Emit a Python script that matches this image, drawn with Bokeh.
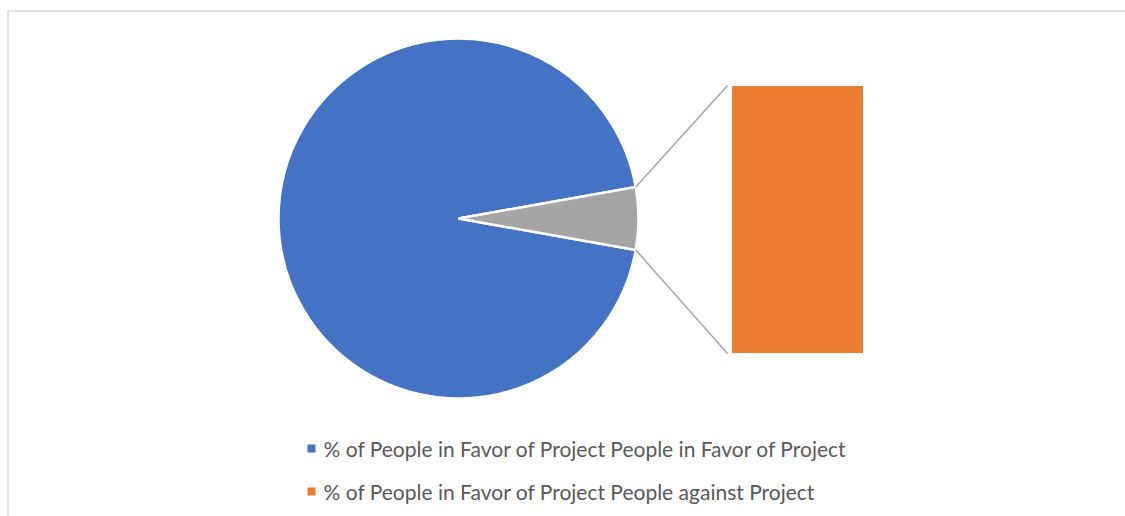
import numpy as np
from bokeh.plotting import figure
from bokeh.models import Range1d, ColumnDataSource
from bokeh.core.properties import value
from bokeh.embed import file_html
from bokeh.resources import INLINE

# ---- data ----
categories = ["People in Favor of Project", "People against Project"]
series_name = "% of People in Favor of Project"
values = [94.4, 5.6]
pie_colors = ["#4472C4", "#A5A5A5"]
bar_colors = ["#4472C4", "#ED7D31"]
legend_labels = [f"{series_name} {c}" for c in categories]

W, H = 1125, 516
p = figure(width=W, height=H, output_backend="svg", toolbar_location=None,
           x_range=Range1d(0, W), y_range=Range1d(0, H), min_border=0)
p.axis.visible = False
p.grid.visible = False
p.outline_line_color = None
p.background_fill_color = "white"
p.border_fill_color = "white"

# chart area border (cropped)
p.quad(left=[7.5], right=[W + 50], top=[H - 10.5], bottom=[-50],
       fill_color=None, line_color="#d9d9d9", line_width=1.5)

# pie
cx, cy, r = 458, H - 218, 180
total = sum(values)
frac_other = values[1] / total
half = frac_other * np.pi  # half of the secondary slice angle
starts = [half, -half]
ends = [2 * np.pi - half, half]
p.wedge(x=[cx, cx], y=[cy, cy], radius=r, start_angle=starts, end_angle=ends,
        fill_color=pie_colors, line_color="white", line_width=2.5)

# bar of secondary values
bar_left, bar_right = 731, 863
bar_top, bar_bottom = H - 85, H - 353
sec_vals = [values[1]]
sec_total = sum(sec_vals)
cum = np.cumsum([0] + sec_vals) / sec_total
tops = [bar_top - (bar_top - bar_bottom) * cum[i] for i in range(len(sec_vals))]
bots = [bar_top - (bar_top - bar_bottom) * cum[i + 1] for i in range(len(sec_vals))]
p.quad(left=[bar_left], right=[bar_right], top=tops, bottom=bots,
       fill_color=bar_colors[1], line_color="white", line_width=1)

# connector lines
x0 = cx + r * np.cos(half)
p.segment(x0=[x0, x0], y0=[cy + r * np.sin(half), cy - r * np.sin(half)],
          x1=[bar_left - 4, bar_left - 4], y1=[bar_top, bar_bottom],
          line_color="#a6a6a6", line_width=1.5)

# legend
ly = [H - 448, H - 491]
p.scatter(x=[311, 311], y=ly, marker="square", size=8,
          fill_color=bar_colors, line_color=None)
p.text(x=[323, 323], y=ly, text=legend_labels, text_font=value("Lato"),
       text_font_size="21px", text_color="#595959", text_baseline="middle",
       text_align="left")

open("out.html", "w").write(file_html(p, INLINE))
